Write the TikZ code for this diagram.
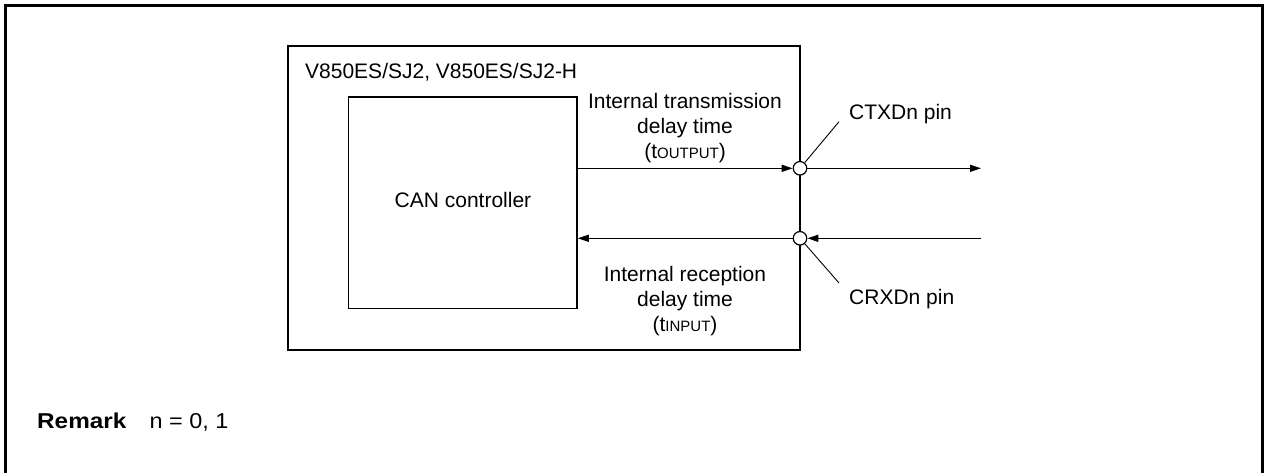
\documentclass[tikz,border=0pt]{standalone}
\usepackage{fontspec}
\setmainfont{Liberation Sans}
\usetikzlibrary{arrows.meta}
\tikzset{
  lbl/.style={font=\fontsize{21pt}{25pt}\selectfont, inner sep=0pt},
  arr/.style={line width=1.3pt, -{Triangle[length=11pt,width=7pt]}},
  pinc/.style={circle, draw, fill=white, minimum size=13.5pt, inner sep=0pt, line width=1.2pt},
  lead/.style={line width=0.9pt}
}
\newcommand{\smc}[1]{{\fontsize{15pt}{15pt}\selectfont #1}}
\begin{document}
\begin{tikzpicture}[x=1pt,y=-1pt]
\useasboundingbox (0,0) rectangle (1265,473);
% outer frame (open at bottom)
\draw[line width=3pt] (5.5,474) -- (5.5,6) -- (1262.5,6) -- (1262.5,474);
% chip box
\node[draw, line width=2pt, minimum width=512pt, minimum height=303.5pt, inner sep=0pt] (chip) at (544,198.25) {};
\node[lbl, anchor=west] (title) at (305,72) {V850ES/SJ2, V850ES/SJ2-H};
% CAN controller
\node[lbl, draw, line width=1.5pt, minimum width=228.5pt, minimum height=211.5pt] (can) at (462.75,202.75) {};
\node[lbl] (cantext) at (463,200) {CAN controller};
% pins
\node[pinc] (ctx) at (800,168.3) {};
\node[pinc] (crx) at (800,238.3) {};
\coordinate (txend) at (981,168.3);
\coordinate (rxstart) at (981,238.3);
\draw[arr] (can.east |- ctx) -- (ctx);
\draw[arr] (ctx) -- (txend);
\draw[arr] (rxstart) -- (crx);
\draw[arr] (crx) -- (can.east |- crx);
% leaders
\coordinate (ctxl) at (839,121.7);
\coordinate (crxl) at (839,283);
\draw[lead] (ctx) -- (ctxl);
\draw[lead] (crx) -- (crxl);
\node[lbl, anchor=west] (ctxlab) at (849,114) {CTXDn pin};
\node[lbl, anchor=west] (crxlab) at (849,299) {CRXDn pin};
% delay labels
\node[lbl, align=center] (txlab) at (685,128.5) {Internal transmission\\delay time\\(t\smc{OUTPUT})};
\node[lbl, align=center] (rxlab) at (685,301.5) {Internal reception\\delay time\\(t\smc{INPUT})};
% remark
\node[anchor=base west, inner sep=0pt, font=\fontsize{21.5pt}{25pt}\selectfont] (rem) at (37,428.5) {\scalebox{1.13}[1]{\textbf{Remark}}};
\node[anchor=base west, inner sep=0pt, font=\fontsize{21.5pt}{25pt}\selectfont] (remn) at (149.5,428.5) {\scalebox{1.09}[1]{n = 0, 1}};
\end{tikzpicture}
\end{document}
